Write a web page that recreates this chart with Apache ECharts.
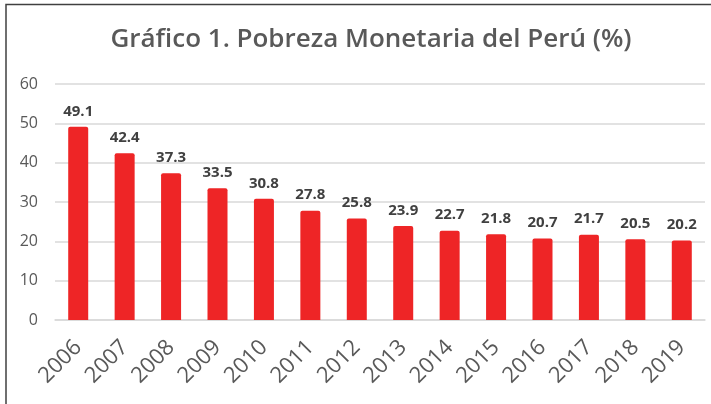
<!DOCTYPE html>
<html><head><meta charset="utf-8">
<script src="https://cdn.jsdelivr.net/npm/echarts@6/dist/echarts.min.js"></script>
<style>html,body{margin:0;padding:0;background:#fff}#c{width:711px;height:404px}</style>
</head><body><div id="c"></div>
<script>
const categories = ['2006','2007','2008','2009','2010','2011','2012','2013','2014','2015','2016','2017','2018','2019'];
const pobreza = [49.1,42.4,37.3,33.5,30.8,27.8,25.8,23.9,22.7,21.8,20.7,21.7,20.5,20.2];
const yTicks = [0,10,20,30,40,50,60];
const titleText = 'Gráfico 1. Pobreza Monetaria del Perú (%)';

const chart = echarts.init(document.getElementById('c'));
chart.setOption({
  animation: false,
  backgroundColor: '#fff',
  title: {
    text: titleText, left: 366, textAlign: 'center', top: 22,
    textStyle: {fontFamily: 'Open Sans', fontSize: 26, fontWeight: 600, color: '#595959'}
  },
  graphic: [{
    type: 'polyline', silent: true,
    shape: {points: [[6,404],[6,4.5],[711,4.5]]},
    style: {stroke: '#404040', lineWidth: 1.5, fill: null}
  }],
  grid: {left: 55, right: 6, top: 84, bottom: 84},
  xAxis: {
    type: 'category', data: categories,
    axisLine: {show: true, lineStyle: {color: '#d9d9d9', width: 1.5}},
    axisTick: {show: false},
    axisLabel: {rotate: 45, fontFamily: 'Open Sans', fontSize: 22, color: '#595959', margin: 24}
  },
  yAxis: {
    type: 'value', min: yTicks[0], max: yTicks[yTicks.length-1], interval: 10,
    axisLine: {show: false}, axisTick: {show: false},
    axisLabel: {fontFamily: 'Open Sans', fontSize: 16, color: '#595959', margin: 17},
    splitLine: {lineStyle: {color: '#d9d9d9', width: 1.5}}
  },
  series: [{
    type: 'bar', data: pobreza, barWidth: 20,
    itemStyle: {color: '#ee2526', borderRadius: [2,2,0,0]},
    label: {show: true, position: 'top', distance: 8, fontFamily: 'Open Sans', fontSize: 15, fontWeight: 'bold', color: '#404040',
      formatter: p => p.value.toFixed(1)}
  }]
});
</script></body></html>
